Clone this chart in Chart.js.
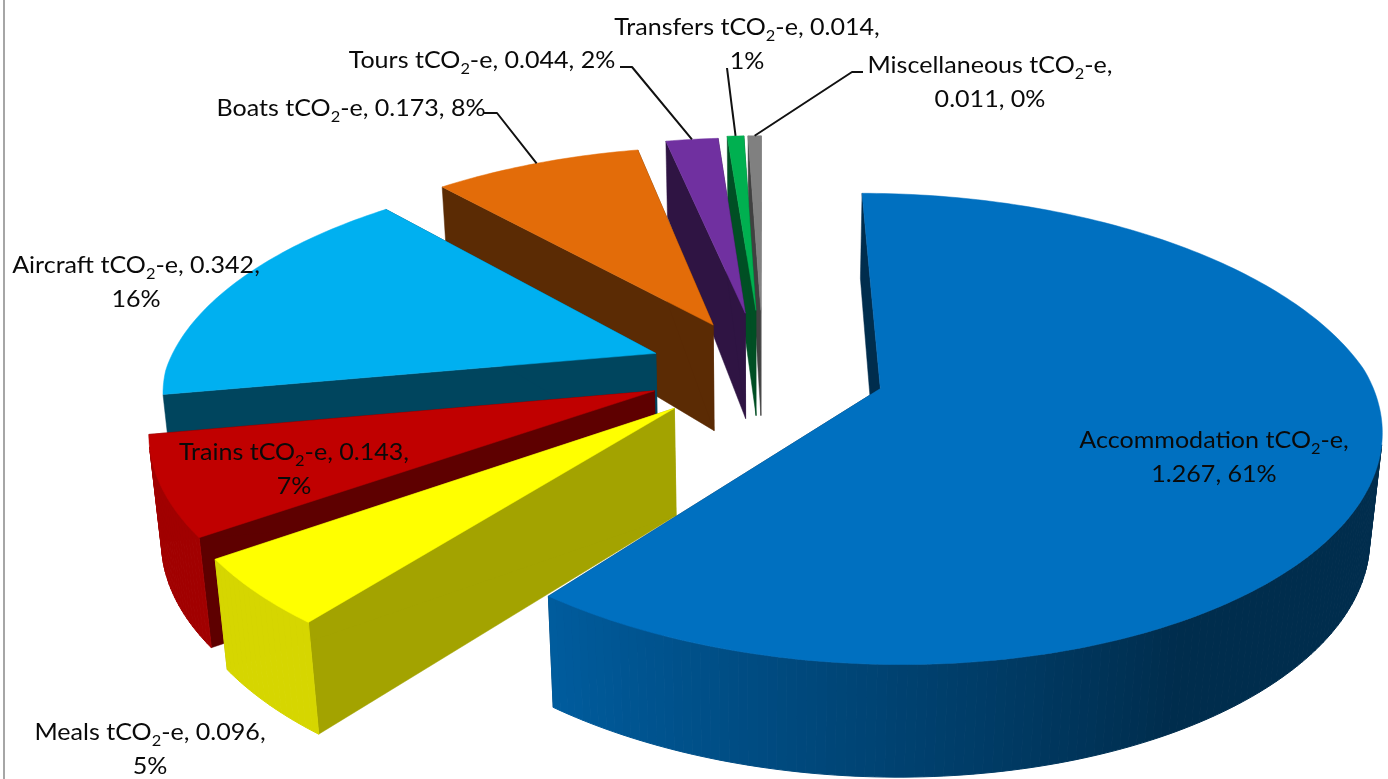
<!DOCTYPE html>
<html>
<head>
<meta charset="utf-8">
<title>Carbon footprint by category</title>
<script src="https://cdn.jsdelivr.net/npm/chart.js@4"></script>
<style>
    html, body { margin: 0; background: #fff; overflow: hidden; }
    #wrap { position: relative; width: 1388px; height: 779px; overflow: hidden; }
    #frame { position: absolute; left: 3px; top: 0; width: 2px; height: 779px; background: #a6a6a6; }
    .pie-label {
        position: absolute;
        transform: translateX(-50%) scaleX(1.09);
        text-align: center;
        white-space: nowrap;
        font-family: Lato, sans-serif;
        font-size: 23px;
        line-height: 33.5px;
        color: #0a0a0a;
    }
    .pie-label sub { font-size: 15px; line-height: 0; }
</style>
</head>
<body>
<div id="wrap">
    <canvas id="pieChart" width="1388" height="779"></canvas>
    <div id="frame"></div>
</div>
<script>
const categories = ['Accommodation', 'Meals', 'Trains', 'Aircraft', 'Boats', 'Tours', 'Transfers', 'Miscellaneous'];
const emissions = [1.267, 0.096, 0.143, 0.342, 0.173, 0.044, 0.014, 0.011];
const percents = [61, 5, 7, 16, 8, 2, 1, 0];

const sliceColors = ['#0070C0', '#FFFF00', '#C00000', '#00B0F0', '#E36C09', '#7030A0', '#00B050', '#808080'];
const cutShades = [0.4, 0.64, 0.49, 0.39, 0.4, 0.42, 0.45, 0.5];
const explode = [86, 83, 81, 80, 80, 92, 96, 96];

// where each label's text block sits: centre x, top y, line break rule
const labelCentres = [1214, 150, 294, 136, 351, 482, 747, 990];
const labelTops = [423, 715, 435, 248, 91, 43, 10, 48];
const labelBreaks = ['value', 'pct', 'pct', 'pct', 'none', 'none', 'pct', 'value'];

// leader lines: label side end and elbow, the pie side end comes from the slice
const leaders = {
    4: [[484, 113], [497, 113]],
    5: [[620, 67], [632, 67]],
    6: [[727, 68], [727, 68]],
    7: [[863, 72], [852, 72]]
};

// camera for the tilted pie, the far half narrows faster than the near half
const view = {
    cx: 763, cy: 370,
    aLeft: 490, aRight: 487, b: 222.4,
    k: 0.1687, kNear: 0.15, kFar: 0.185,
    m: 0.02, h: 106.5, c: 0.06, farDrop: 33
};

function project(u, v, z) {
    const dy = 1 - view.k * v;
    const dx = 1 - (v > 0 ? view.kNear : view.kFar) * v + view.m * z;
    const a = u > 0 ? view.aRight : view.aLeft;
    // the extrusion gets shorter towards the far edge
    const height = view.h - view.farDrop * Math.max(0, -v - 0.3);
    return {
        x: view.cx + a * u / dx,
        y: view.cy + (view.b * v * (1 - view.c * z) + height * z) / dy
    };
}

function shade(hex, f) {
    const n = parseInt(hex.slice(1), 16);
    const r = Math.round(((n >> 16) & 255) * f);
    const g = Math.round(((n >> 8) & 255) * f);
    const b = Math.round((n & 255) * f);
    return `rgb(${r},${g},${b})`;
}

// rim is dark on the right and gets lighter going round to the left
function wallShade(angle) {
    const deg = ((angle + Math.PI / 2) * 180 / Math.PI + 360) % 360;
    if (deg < 150) return 0.4;
    if (deg > 218) return 0.84;
    return 0.4 + (deg - 150) / 68 * 0.42;
}

function sliceGeometry(arc) {
    const { startAngle, endAngle, outerRadius } = arc.getProps(['startAngle', 'endAngle', 'outerRadius'], true);
    const mid = (startAngle + endAngle) / 2;
    const e = arc.options.offset / outerRadius;
    const ou = e * Math.cos(mid);
    const ov = e * Math.sin(mid);
    return {
        startAngle,
        endAngle,
        mid,
        apex: z => project(ou, ov, z),
        rim: (a, z) => project(ou + Math.cos(a), ov + Math.sin(a), z)
    };
}

function fillPoly(ctx, pts, color, lineWidth) {
    ctx.beginPath();
    pts.forEach((p, i) => i ? ctx.lineTo(p.x, p.y) : ctx.moveTo(p.x, p.y));
    ctx.closePath();
    ctx.fillStyle = color;
    ctx.strokeStyle = color;
    ctx.lineWidth = lineWidth;
    ctx.fill();
    ctx.stroke();
}

// screen winding of a wall quad, negative when it faces the viewer
function winding(pts) {
    let sum = 0;
    pts.forEach((p, i) => {
        const q = pts[(i + 1) % pts.length];
        sum += p.x * q.y - q.x * p.y;
    });
    return sum;
}

function drawSlice(ctx, arc, color, cutShade) {
    const s = sliceGeometry(arc);
    const steps = Math.max(3, Math.ceil((s.endAngle - s.startAngle) * 180 / Math.PI));
    const angles = [];
    for (let i = 0; i <= steps; i++) angles.push(s.startAngle + (s.endAngle - s.startAngle) * i / steps);

    // straight cut faces
    [s.startAngle, s.endAngle].forEach(a => {
        fillPoly(ctx, [s.apex(0), s.rim(a, 0), s.rim(a, 1), s.apex(1)], shade(color, cutShade), 0.5);
    });

    // outer wall, only the part that faces the viewer
    for (let i = 0; i < steps; i++) {
        const a0 = angles[i];
        const a1 = angles[i + 1];
        const quad = [s.rim(a0, 0), s.rim(a1, 0), s.rim(a1, 1), s.rim(a0, 1)];
        if (winding(quad) >= 0) continue;
        fillPoly(ctx, quad, shade(color, wallShade((a0 + a1) / 2)), 1);
    }

    // top
    fillPoly(ctx, [s.apex(0)].concat(angles.map(a => s.rim(a, 0))), color, 0.5);
}

const pie3dPlugin = {
    id: 'pie3d',
    beforeDatasetsDraw(chart) {
        const ctx = chart.ctx;
        const arcs = chart.getDatasetMeta(0).data;
        ctx.save();
        ctx.lineJoin = 'round';
        // back slices first, the big front slice last
        for (let i = arcs.length - 1; i >= 0; i--) {
            drawSlice(ctx, arcs[i], sliceColors[i], cutShades[i]);
        }
        // leader lines
        ctx.strokeStyle = '#111';
        ctx.lineWidth = 2;
        Object.keys(leaders).forEach(i => {
            const s = sliceGeometry(arcs[i]);
            const end = s.rim(s.mid, 0);
            ctx.beginPath();
            ctx.moveTo(leaders[i][0][0], leaders[i][0][1]);
            ctx.lineTo(leaders[i][1][0], leaders[i][1][1]);
            ctx.lineTo(end.x, end.y);
            ctx.stroke();
        });
        ctx.restore();
        return false;
    }
};

function renderLabels() {
    const wrap = document.getElementById('wrap');
    categories.forEach((name, i) => {
        const head = `${name} tCO<sub>2</sub>-e,`;
        let html = `${head} ${emissions[i].toFixed(3)}, ${percents[i]}%`;
        if (labelBreaks[i] === 'value') html = `${head}<br>${emissions[i].toFixed(3)}, ${percents[i]}%`;
        if (labelBreaks[i] === 'pct') html = `${head} ${emissions[i].toFixed(3)},<br>${percents[i]}%`;
        const div = document.createElement('div');
        div.className = 'pie-label';
        div.style.left = labelCentres[i] + 'px';
        div.style.top = labelTops[i] + 'px';
        div.innerHTML = html;
        wrap.appendChild(div);
    });
}

new Chart(document.getElementById('pieChart').getContext('2d'), {
    type: 'pie',
    data: {
        labels: categories,
        datasets: [{
            data: emissions,
            backgroundColor: sliceColors,
            offset: explode,
            borderWidth: 0
        }]
    },
    options: {
        responsive: false,
        animation: false,
        events: [],
        rotation: 0,
        plugins: { legend: { display: false }, tooltip: { enabled: false } }
    },
    plugins: [pie3dPlugin]
});

renderLabels();
</script>
</body>
</html>
